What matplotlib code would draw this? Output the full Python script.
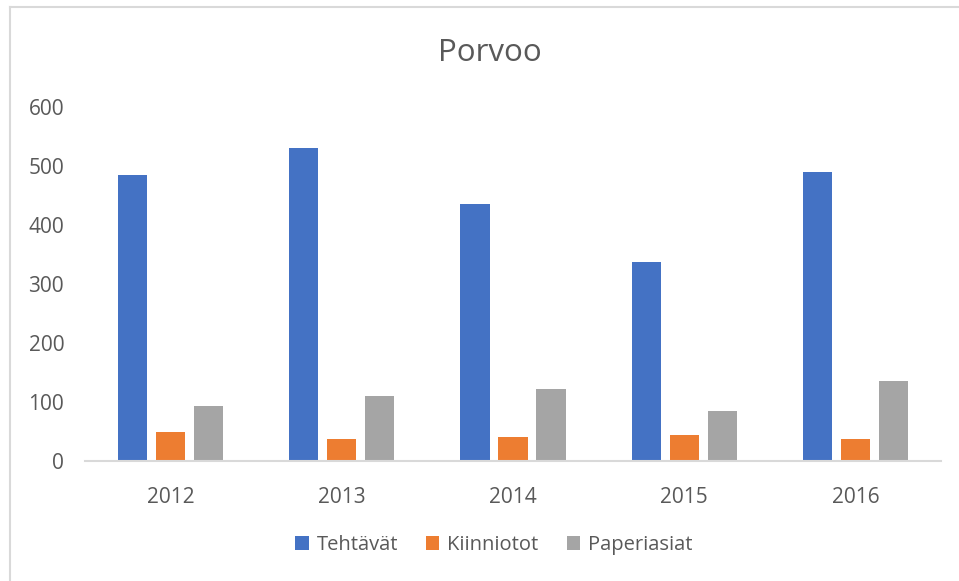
import numpy as np
import matplotlib
matplotlib.use('Agg')
import matplotlib.pyplot as plt
from matplotlib.lines import Line2D

plt.rcParams['font.family'] = ['Open Sans', 'DejaVu Sans']

# Data
years = ['2012', '2013', '2014', '2015', '2016']
tehtavat = [484, 530, 436, 338, 489]
kiinniotot = [50, 37, 40, 44, 37]
paperiasiat = [94, 111, 122, 85, 136]

series_names = ['Tehtävät', 'Kiinniotot', 'Paperiasiat']
colors = ['#4472C4', '#ED7D31', '#A5A5A5']
text_color = '#595959'

fig = plt.figure(figsize=(9.59, 5.81), dpi=100)
ax = fig.add_axes([85 / 959, 120 / 581, 856 / 959, 354 / 581])

x = np.arange(len(years))
width = 0.17
step = 0.222
for i, (vals, name, col) in enumerate(zip([tehtavat, kiinniotot, paperiasiat], series_names, colors)):
    ax.bar(x + (i - 1) * step, vals, width, color=col, label=name)

ax.set_xlim(-0.5, len(years) - 0.5)
ax.set_ylim(0, 600)
ax.set_yticks(range(0, 601, 100))
ax.set_xticks(x)
ax.set_xticklabels(years)

for side in ['top', 'right', 'left']:
    ax.spines[side].set_visible(False)
ax.spines['bottom'].set_color('#D9D9D9')
ax.spines['bottom'].set_linewidth(1.5)

ax.tick_params(axis='y', length=0, pad=15, labelsize=15, labelcolor=text_color)
ax.tick_params(axis='x', length=0, pad=19, labelsize=15, labelcolor=text_color)

fig.text(490 / 959, 1 - 53 / 581, 'Porvoo', ha='center', va='center',
         fontsize=22.5, color=text_color)

handles, labels = ax.get_legend_handles_labels()
leg = fig.legend(handles, labels, loc='center', bbox_to_anchor=(494 / 959, 1 - 545 / 581),
                 ncol=3, frameon=False, fontsize=14.5, handlelength=0.65, handleheight=0.65,
                 handletextpad=0.4, columnspacing=1.4, labelcolor=text_color)

# chart frame (only top and left edges are visible in the original)
fig.add_artist(Line2D([10 / 959, 10 / 959], [0, 1 - 7 / 581], color='#D9D9D9', lw=1.5))
fig.add_artist(Line2D([10 / 959, 1], [1 - 7 / 581, 1 - 7 / 581], color='#D9D9D9', lw=1.5))

fig.savefig('out.png', dpi=100)
